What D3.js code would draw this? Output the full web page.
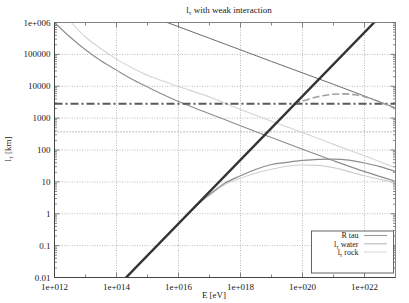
<!DOCTYPE html>
<meta charset="utf-8">
<script src="https://d3js.org/d3.v7.js"></script>
<style>
  body { margin: 0; background: #fff; }
  text, tspan { font-family: "Liberation Serif", "DejaVu Serif", serif; fill: #1a1a1a; }
</style>
<div id="chart"></div>
<script>

// ---- data (E in eV, lengths in km) ----
const xTickValues = [1e12, 1e14, 1e16, 1e18, 1e20, 1e22];
const xTickLabels = ["1e+012", "1e+014", "1e+016", "1e+018", "1e+020", "1e+022"];
const yTickValues = [1e6, 1e5, 1e4, 1e3, 100, 10, 1, 0.1, 0.01];
const yTickLabels = ["1e+006", "100000", "10000", "1000", "100", "10", "1", "0.1", "0.01"];

// thick straight line (tau decay length)
const decayE = [1e14, 1e23];
const decayL = [0.0049, 4.9e6];

// thin dark straight line
const darkE = [1e15, 1e17, 1e19, 1e21, 1e23];
const darkL = [1.7e6, 3.2e5, 6.0e4, 1.15e4, 2.1e3];

// medium grey curve from upper left
const midE = [1e12, 3.16e12, 1e13, 3.16e13, 1e14, 3.16e14, 1e15, 3.16e15, 1e16, 1e17, 1e18, 1e19, 1e20, 1e21, 1e22, 1e23];
const midL = [1e6, 3.5e5, 1.4e5, 6.3e4, 3.2e4, 1.66e4, 9.5e3, 5.5e3, 3.3e3, 1.38e3, 575, 245, 105, 46, 21, 10.5];

// light grey curve from upper left
const lightE = [3.5e12, 1e13, 3.16e13, 1e14, 3.16e14, 1e15, 3.16e15, 1e16, 1e17, 1e18, 1e19, 1e20, 1e21, 1e22, 1e23];
const lightL = [1e6, 3.5e5, 1.5e5, 7.1e4, 3.8e4, 2.2e4, 1.45e4, 9.8e3, 4.6e3, 1.86e3, 800, 355, 150, 66, 28];

// horizontal reference lines
const dashDotL = 2800;
const dottedL = 370;

// dashed curve
const dashedE = [5.1e19, 1e20, 3.16e20, 1e21, 2e21, 5e21, 1e22, 3.16e22, 1e23];
const dashedL = [2800, 3400, 4700, 5600, 5750, 5400, 4700, 3200, 2000];

// l_tau water / rock
const ltauE = [1e16, 3.16e16, 6e16, 1e17, 3.16e17, 1e18, 3.16e18, 1e19, 3.16e19, 1e20, 3.16e20, 1e21, 3.16e21, 1e22, 3.16e22, 1e23];
const waterL = [0.48, 1.5, 2.7, 4.0, 9.2, 15.5, 25, 35, 41, 47, 51, 52, 48, 39, 30, 21];
const rockL = [0.48, 1.5, 2.6, 3.8, 8.3, 13, 19, 25, 31, 34, 33, 28, 21, 15.5, 12, 9.5];

const legendNames = ["R tau", "water", "rock"];

// ---- layout ----
const W = 409, H = 303;
const pLeft = 54.5, pRight = 395.5, pTop = 22.5, pBottom = 277.5;

const svg = d3.select("#chart").append("svg")
    .attr("width", W).attr("height", H);

const x = d3.scaleLog().domain([1e12, 1e23]).range([pLeft, pRight]);
const y = d3.scaleLog().domain([0.01, 1e6]).range([pBottom, pTop]);

svg.append("clipPath").attr("id", "clip")
  .append("rect")
    .attr("x", pLeft).attr("y", pTop)
    .attr("width", pRight - pLeft).attr("height", pBottom - pTop);

// grid
const grid = svg.append("g")
    .attr("stroke", "#aaa").attr("stroke-width", 0.8).attr("stroke-dasharray", "1,1.5");
grid.selectAll(".gx").data(xTickValues.slice(1))
  .join("line")
    .attr("x1", d => x(d)).attr("x2", d => x(d))
    .attr("y1", pTop).attr("y2", pBottom);
grid.selectAll(".gy").data(yTickValues.slice(1, -1))
  .join("line")
    .attr("y1", d => y(d)).attr("y2", d => y(d))
    .attr("x1", pLeft).attr("x2", pRight);

// ticks (major + minor, mirrored)
const ticks = svg.append("g").attr("stroke", "#666").attr("stroke-width", 0.8);
const xMinor = [1e13, 1e15, 1e17, 1e19, 1e21];
xTickValues.concat(xMinor).forEach(v => {
  const len = xTickValues.includes(v) ? 5 : 3;
  ticks.append("line").attr("x1", x(v)).attr("x2", x(v)).attr("y1", pBottom).attr("y2", pBottom - len);
  ticks.append("line").attr("x1", x(v)).attr("x2", x(v)).attr("y1", pTop).attr("y2", pTop + len);
});
const yMinor = [];
for (let e = -2; e < 6; e++) for (let m = 2; m <= 9; m++) yMinor.push(m * Math.pow(10, e));
yTickValues.forEach(v => {
  ticks.append("line").attr("y1", y(v)).attr("y2", y(v)).attr("x1", pLeft).attr("x2", pLeft + 5);
  ticks.append("line").attr("y1", y(v)).attr("y2", y(v)).attr("x1", pRight).attr("x2", pRight - 5);
});
yMinor.forEach(v => {
  ticks.append("line").attr("y1", y(v)).attr("y2", y(v)).attr("x1", pLeft).attr("x2", pLeft + 2.5);
  ticks.append("line").attr("y1", y(v)).attr("y2", y(v)).attr("x1", pRight).attr("x2", pRight - 2.5);
});

// curves
const line = d3.line().x(d => x(d[0])).y(d => y(d[1])).curve(d3.curveMonotoneX);
const zip = (a, b) => a.map((v, i) => [v, b[i]]);
const plot = svg.append("g").attr("clip-path", "url(#clip)").attr("fill", "none");

plot.append("line")
    .attr("x1", pLeft).attr("x2", pRight).attr("y1", y(dottedL)).attr("y2", y(dottedL))
    .attr("stroke", "#aaa").attr("stroke-width", 1.4).attr("stroke-dasharray", "1.2,1.8");

plot.append("path").attr("d", line(zip(lightE, lightL)))
    .attr("stroke", "#d4d4d4").attr("stroke-width", 1.1);
plot.append("path").attr("d", line(zip(midE, midL)))
    .attr("stroke", "#8c8c8c").attr("stroke-width", 1.1);
plot.append("path").attr("d", line(zip(darkE, darkL)))
    .attr("stroke", "#6a6a6a").attr("stroke-width", 1);

plot.append("path").attr("d", line(zip(ltauE, rockL)))
    .attr("stroke", "#cfcfcf").attr("stroke-width", 1.1);
plot.append("path").attr("d", line(zip(ltauE, waterL)))
    .attr("stroke", "#8c8c8c").attr("stroke-width", 1.2);

plot.append("line")
    .attr("x1", pLeft).attr("x2", pRight).attr("y1", y(dashDotL)).attr("y2", y(dashDotL))
    .attr("stroke", "#595959").attr("stroke-width", 2).attr("stroke-dasharray", "8,3,2,3");

plot.append("path").attr("d", line(zip(dashedE, dashedL)))
    .attr("stroke", "#a0a0a0").attr("stroke-width", 1.6).attr("stroke-dasharray", "7,3");

plot.append("path").attr("d", line(zip(decayE, decayL)))
    .attr("stroke", "#333").attr("stroke-width", 2.4);

// border
svg.append("rect")
    .attr("x", pLeft).attr("y", pTop).attr("width", pRight - pLeft).attr("height", pBottom - pTop)
    .attr("fill", "none").attr("stroke", "#777").attr("stroke-width", 0.9);
svg.append("path")
    .attr("d", `M${pLeft},${pTop}V${pBottom}H${pRight}`)
    .attr("fill", "none").attr("stroke", "#444").attr("stroke-width", 1);

// tick labels
svg.append("g").selectAll("text").data(xTickValues)
  .join("text")
    .attr("x", d => x(d)).attr("y", 289.5)
    .attr("text-anchor", "middle").style("font-size", "9px")
    .text((d, i) => xTickLabels[i]);
svg.append("g").selectAll("text").data(yTickValues)
  .join("text")
    .attr("x", 50.5).attr("y", d => y(d) + 3)
    .attr("text-anchor", "end").style("font-size", "9px")
    .text((d, i) => yTickLabels[i]);

// title and axis labels
const title = svg.append("text").attr("x", 229).attr("y", 13)
    .attr("text-anchor", "middle").style("font-size", "9px");
title.append("tspan").text("l");
title.append("tspan").attr("dy", 2).style("font-size", "6.5px").text("\u03c4");
title.append("tspan").attr("dy", -2).text(" with weak interaction");

svg.append("text").attr("x", 214).attr("y", 298)
    .attr("text-anchor", "middle").style("font-size", "9px").text("E [eV]");

const ylab = svg.append("text")
    .attr("transform", "translate(11,149) rotate(-90)")
    .attr("text-anchor", "middle").style("font-size", "9px");
ylab.append("tspan").text("l");
ylab.append("tspan").attr("dy", 2).style("font-size", "6.5px").text("\u03c4");
ylab.append("tspan").attr("dy", -2).text(" [km]");

// legend
const lg = svg.append("g");
lg.append("rect").attr("x", 311.5).attr("y", 231).attr("width", 82).attr("height", 42)
    .attr("fill", "#fff").attr("stroke", "#555").attr("stroke-width", 0.9);
const legendColors = ["#9a9a9a", "#b8b8b8", "#dadada"];
legendNames.forEach((name, i) => {
  const yy = 235.5 + i * 8.3;
  const t = lg.append("text").attr("x", 358.5).attr("y", yy + 2.8)
      .attr("text-anchor", "end").style("font-size", "8px");
  if (i === 0) {
    t.text(name);
  } else {
    t.append("tspan").text("l");
    t.append("tspan").attr("dy", 2).style("font-size", "6px").text("\u03c4");
    t.append("tspan").attr("dy", -2).text(" " + name);
  }
  lg.append("line").attr("x1", 364).attr("x2", 387).attr("y1", yy).attr("y2", yy)
      .attr("stroke", legendColors[i]).attr("stroke-width", 1.1);
});

</script>
